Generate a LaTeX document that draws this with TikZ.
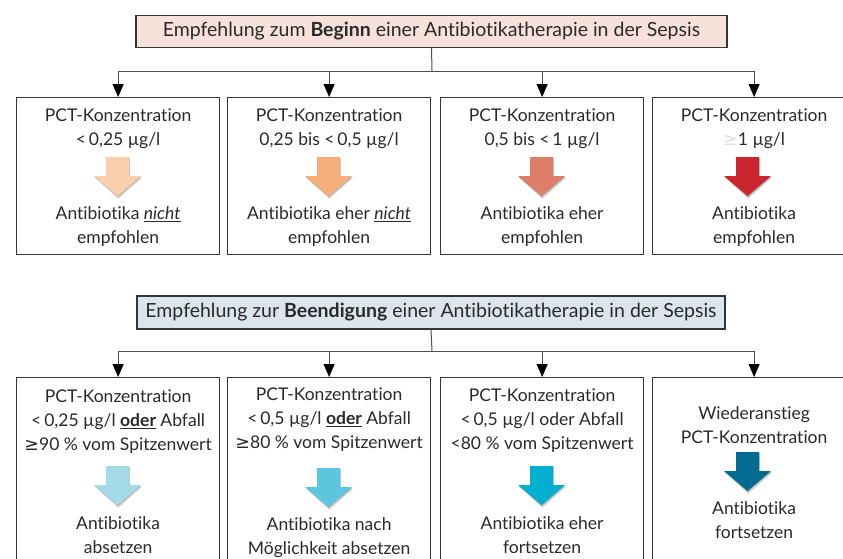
\documentclass[tikz,border=0pt]{standalone}
\usepackage{fontspec}
\setmainfont{Lato}[Ligatures=NoCommon]
\newfontfamily\symf{DejaVu Sans}
\usetikzlibrary{arrows.meta}
\definecolor{linegray}{HTML}{505050}
\definecolor{boxborder}{HTML}{353535}
\definecolor{txt}{HTML}{2A2A2A}
\definecolor{pinkfill}{HTML}{F7E2DB}
\definecolor{bluefill}{HTML}{DCE4EE}
\definecolor{aone}{HTML}{FBCFAE}
\definecolor{atwo}{HTML}{F6AE7A}
\definecolor{athree}{HTML}{DE7E69}
\definecolor{afour}{HTML}{CB2630}
\definecolor{bone}{HTML}{A5DBE9}
\definecolor{btwo}{HTML}{5BC6DD}
\definecolor{bthree}{HTML}{00AFCF}
\definecolor{bfour}{HTML}{036A92}
\newcommand\pctarrow[3]{%
  \begin{scope}[shift={(#1,#2)}]
    \fill[black,opacity=0.12] (-10.5,1.5) -- (12.5,1.5) -- (12.5,20.5) -- (25,20.5) -- (1,42) -- (-22.5,20.5) -- (-10.5,20.5) -- cycle;
    \fill[black,opacity=0.18] (-11,1) -- (12,1) -- (12,20) -- (24,20) -- (0.5,40.5) -- (-23,20) -- (-11,20) -- cycle;
    \fill[#3] (-11.5,0) -- (11.5,0) -- (11.5,19) -- (23.5,19) -- (0,39) -- (-23.5,19) -- (-11.5,19) -- cycle;
  \end{scope}}
\tikzset{
  titlebox/.style={draw=boxborder, line width=1.2pt, minimum height=32pt, inner sep=0pt, text=txt, font=\fontsize{19.5}{23}\selectfont},
  pctbox/.style={draw=boxborder, line width=1.2pt, anchor=north west, minimum width=203pt, inner sep=0pt},
  boxtext/.style={align=center, text=txt, inner sep=0pt, font=\fontsize{17.5}{24}\selectfont},
  conn/.style={draw=linegray, line width=1pt},
  arr/.style={conn, -{Triangle[length=13pt,width=11pt,fill=black,color=black]}}
}
\begin{document}
\begin{tikzpicture}[x=1pt,y=-1pt]
\clip (0,0) rectangle (843,558);
\fill[white] (0,0) rectangle (843,558);
% ---------- top part ----------
\node[titlebox, fill=pinkfill, minimum width=591pt] (t1) at (431.5,31.5) {Empfehlung zum \textbf{Beginn} einer Antibiotikatherapie in der Sepsis};
\node[pctbox, minimum height=157pt] (a1) at (16,97) {};
\node[pctbox, minimum height=157pt] (a2) at (227,97) {};
\node[pctbox, minimum height=157pt] (a3) at (440,97) {};
\node[pctbox, minimum height=157pt] (a4) at (652,97) {};
\coordinate (j1) at (432,71);
\draw[conn] (t1.south) -- (j1);
\foreach \b in {a1,a2,a3,a4} {\draw[arr] (j1) -| (\b.north);}
\node[boxtext] (a1u) at (a1.north |- 0,129) {PCT-Konzentration\\<\,0,25 µg/l};
\node[boxtext] (a2u) at (a2.north |- 0,129) {PCT-Konzentration\\0,25 bis <\,0,5 µg/l};
\node[boxtext] (a3u) at (a3.north |- 0,129) {PCT-Konzentration\\0,5 bis <\,1 µg/l};
\node[boxtext] (a4u) at (a4.north |- 0,129) {PCT-Konzentration\\{\color{black!12}\symf ≥}1 µg/l};
\pctarrow{117.5}{157}{aone}
\pctarrow{328.5}{157}{atwo}
\pctarrow{541.5}{157}{athree}
\pctarrow{747.5}{157}{afour}
\node[boxtext] (a1l) at (a1.north |- 0,226.5) {Antibiotika \underline{\textit{nicht}}\\empfohlen};
\node[boxtext] (a2l) at (a2.north |- 0,226.5) {Antibiotika eher \underline{\textit{nicht}}\\empfohlen};
\node[boxtext] (a3l) at (a3.north |- 0,226.5) {Antibiotika eher\\empfohlen};
\node[boxtext] (a4l) at (a4.north |- 0,226.5) {Antibiotika\\empfohlen};
% ---------- bottom part ----------
\node[titlebox, fill=bluefill, minimum width=588pt, minimum height=33pt] (t2) at (431,312.5) {Empfehlung zur \textbf{Beendigung} einer Antibiotikatherapie in der Sepsis};
\node[pctbox, minimum height=220pt] (c1) at (16,377) {};
\node[pctbox, minimum height=220pt] (c2) at (227,377) {};
\node[pctbox, minimum height=220pt] (c3) at (440,377) {};
\node[pctbox, minimum height=220pt] (c4) at (652,377) {};
\coordinate (j2) at (432,351);
\draw[conn] (t2.south) -- (j2);
\foreach \b in {c1,c2,c3,c4} {\draw[arr] (j2) -| (\b.north);}
\node[boxtext] (c1u) at (c1.north |- 0,421.5) {PCT-Konzentration\\<\,0,25 µg/l \underline{\textbf{oder}} Abfall\\{\symf ≥}90 \% vom Spitzenwert};
\node[boxtext] (c2u) at (c2.north |- 0,420) {PCT-Konzentration\\<\,0,5 µg/l \underline{\textbf{oder}} Abfall\\{\symf ≥}80 \% vom Spitzenwert};
\node[boxtext] (c3u) at (c3.north |- 0,421) {PCT-Konzentration\\<\,0,5 µg/l oder Abfall\\<80 \% vom Spitzenwert};
\node[boxtext] (c4u) at (c4.north |- 0,425) {Wiederanstieg\\PCT-Konzentration};
\pctarrow{117.5}{466}{bone}
\pctarrow{328.5}{468}{btwo}
\pctarrow{541.5}{466}{bthree}
\pctarrow{747.5}{452}{bfour}
\node[boxtext] (c1l) at (c1.north |- 0,535.5) {Antibiotika\\absetzen};
\node[boxtext] (c2l) at (c2.north |- 0,538) {Antibiotika nach\\Möglichkeit absetzen};
\node[boxtext] (c3l) at (c3.north |- 0,535) {Antibiotika eher\\fortsetzen};
\node[boxtext] (c4l) at (c4.north |- 0,520) {Antibiotika\\fortsetzen};
\end{tikzpicture}
\end{document}
